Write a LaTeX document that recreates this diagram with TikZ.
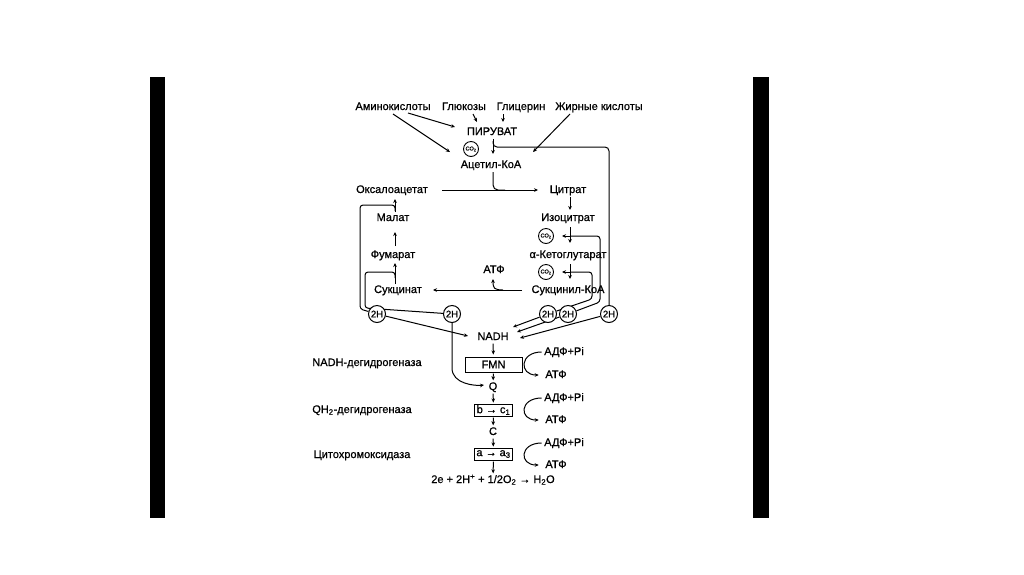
\documentclass[tikz,border=0pt]{standalone}
\usepackage{fontspec}
\setmainfont{Liberation Sans}[FakeBold=0.7]
\usetikzlibrary{arrows.meta,calc}
\pgfdeclarelayer{back}
\pgfdeclarelayer{lines}
\pgfsetlayers{back,lines,main}
\begin{document}
\begin{tikzpicture}[x=1pt,y=-1pt,
  lbl/.style={inner sep=0.5pt,text height=8pt,text depth=2pt,font=\fontsize{11}{12}\selectfont},
  arr/.style={line width=1pt,-{Stealth[length=4pt,width=3.6pt]}},
  ln/.style={line width=1pt},
  hc/.style={circle,draw,fill=white,line width=1pt,minimum size=17pt,inner sep=0pt,font=\fontsize{9.5}{10}\selectfont},
  coc/.style={circle,draw,fill=white,line width=0.9pt,minimum size=15pt,inner sep=0pt,font=\fontsize{5.5}{6}\selectfont},
  ebox/.style={draw,line width=1pt,inner sep=0pt,font=\fontsize{11}{12}\selectfont}]

\begin{pgfonlayer}{back}
\fill[white] (0,0) rectangle (1024,574);
\fill[black] (150,77) rectangle (165,518);
\fill[black] (753,77) rectangle (769,518);
\end{pgfonlayer}
\useasboundingbox (0,0) rectangle (1024,574);

% top substrates
\node[lbl] (amino) at (393,107) {Аминокислоты};
\node[lbl] (gluc) at (464,107) {Глюкозы};
\node[lbl] (glyc) at (521,107) {Глицерин};
\node[lbl] (fat) at (599,107) {Жирные кислоты};
\node[lbl] (pyr) at (492,132) {ПИРУВАТ};
\node[coc] (co1) at (471,149) {CO\textsubscript{2}};
\node[lbl] (acoa) at (491,165) {Ацетил-КоА};

% cycle
\node[lbl] (oxa) at (392,190) {Оксалоацетат};
\node[lbl] (cit) at (568,190) {Цитрат};
\node[lbl] (mal) at (393,218) {Малат};
\node[lbl] (iso) at (568,218) {Изоцитрат};
\node[coc] (co2) at (546,236) {CO\textsubscript{2}};
\node[lbl] (fum) at (393,255) {Фумарат};
\node[lbl] (akg) at (568,255) {α-Кетоглутарат};
\node[lbl] (atp0) at (494,270) {АТФ};
\node[coc] (co3) at (546,272) {CO\textsubscript{2}};
\node[lbl] (suc) at (398,290) {Сукцинат};
\node[lbl] (scoa) at (568,290) {Сукцинил-КоА};

% 2H
\node[hc] (h1) at (377,314) {2H};
\node[hc] (h2) at (452,314) {2H};
\node[hc] (h3) at (548,314) {2H};
\node[hc] (h4) at (568,314) {2H};
\node[hc] (h5) at (609,314) {2H};

% respiratory chain
\node[lbl] (nadh) at (493,337) {NADH};
\node[lbl] (e1) at (367,363) {NADH-дегидрогеназа};
\node[ebox,minimum width=57pt,minimum height=15pt] (fmn) at (493.5,364.5) {FMN};
\node[lbl] (adp1) at (564,352) {АДФ+Pi};
\node[lbl] (atp1) at (556,375) {АТФ};
\node[lbl] (q) at (493,387) {Q};
\node[lbl] (e2) at (362,410) {QH\textsubscript{2}-дегидрогеназа};
\node[ebox,minimum width=38pt,minimum height=12pt] (bc) at (493.5,410) {b → c\textsubscript{1}};
\node[lbl] (adp2) at (564,398) {АДФ+Pi};
\node[lbl] (atp2) at (556,420) {АТФ};
\node[lbl] (cc) at (493,432) {C};
\node[lbl] (e3) at (362,455) {Цитохромоксидаза};
\node[ebox,minimum width=38pt,minimum height=12pt] (aa) at (493.5,454) {a → a\textsubscript{3}};
\node[lbl] (adp3) at (564,443) {АДФ+Pi};
\node[lbl] (atp3) at (556,465) {АТФ};
\node[lbl] (fin) at (493,480) {2e + 2H\textsuperscript{+} + 1/2O\textsubscript{2} → H\textsubscript{2}O};

\begin{pgfonlayer}{lines}
% substrates
\draw[arr] ($(amino)+(15,6)$) -- ($(pyr)+(-37,-5)$);
\draw[arr] ($(amino)+(0,7)$) -- ($(acoa)+(-41,-13)$);
\draw[arr] ($(gluc)+(9,7)$) -- ($(pyr)+(-15,-10)$);
\draw[arr] ($(glyc)+(-18,7)$) -- ($(pyr)+(11,-10)$);
\draw[arr] ($(fat)+(-29,7)$) -- ($(acoa)+(42,-13)$);
\draw[arr] ($(pyr)+(1,7)$) -- ($(acoa)+(2,-11)$);
\coordinate (pb) at ($(pyr)+(1,15)$);
\draw[ln,rounded corners=4pt] ($(pyr)+(1,9)$) -- (pb) -- (pb -| h5) -- (h5.north);

% into the cycle
\coordinate (aj) at ($(acoa)+(2,25)$);
\draw[ln,rounded corners=5pt] ($(acoa)+(2,7)$) -- (aj) -- ++(12,0);
\draw[arr] ($(oxa)+(50,0)$) -- ($(cit)+(-30,0)$);
\draw[arr] ($(cit)+(2,7)$) -- ($(iso)+(2,-8)$);

% isocitrate
\coordinate (ib) at ($(iso)+(2,18)$);
\draw[arr] ($(iso)+(2,9)$) -- ($(iso)+(2,25)$);
\draw[arr] (ib) -- ($(co2)+(16,0)$);
\coordinate (rB) at (600,302);
\draw[ln,rounded corners=3pt] (ib) -- (ib -| rB) -- (rB) -- (h4);

% alpha-ketoglutarate
\coordinate (kb) at ($(akg)+(2,17)$);
\draw[arr] ($(akg)+(2,9)$) -- ($(akg)+(2,24)$);
\draw[arr] (kb) -- ($(co3)+(16,0)$);
\coordinate (rA) at (592,299);
\draw[ln,rounded corners=3pt] (kb) -- (kb -| rA) -- (rA) -- (h3);

% to NADH
\draw[arr] (h3) -- ($(nadh)+(20,-10)$);
\draw[arr] (h4) -- ($(nadh)+(24,-5)$);
\draw[arr] (h5) -- ($(nadh)+(27,1)$);

% succinyl-CoA -> succinate
\draw[arr] ($(scoa)+(-46,0)$) -- ($(suc)+(35,0)$);
\draw[arr] ($(scoa)+(-65,0)$) .. controls ($(scoa)+(-74,0)$) and ($(atp0)+(-1,18)$) .. ($(atp0)+(-1,9)$);

% left side of cycle
\draw[arr] ($(suc)+(-3,-6)$) -- ($(fum)+(2,8)$);
\draw[arr] ($(fum)+(2,-9)$) -- ($(mal)+(2,14)$);
\draw[arr] ($(mal)+(2,-6)$) -- ($(oxa)+(3,9)$);

\coordinate (mb) at ($(mal)+(2,-13)$);
\coordinate (lA) at (360,309);
\draw[ln,rounded corners=3pt] ($(mal)+(2,-7)$) -- (mb) -- (mb -| lA) -- (lA) -- (h1);
\draw[arr] (h1) -- ($(nadh)+(-25,-1)$);

\coordinate (sb) at ($(suc)+(-3,-18)$);
\coordinate (lB) at (365,308);
\draw[ln,rounded corners=3pt] ($(suc)+(-3,-12)$) -- (sb) -- (sb -| lB) -- (lB) -- (h2);
\draw[arr] (h2) -- ($(h2)+(0,54)$) .. controls ($(h2)+(0,70)$) and ($(q)+(-18,-1)$) .. ($(q)+(-9,-2)$);

% chain
\draw[arr,shorten <=1pt,shorten >=2pt] (nadh) -- (fmn);
\draw[arr,shorten <=1pt,shorten >=1pt] (fmn) -- (q);
\draw[arr,shorten <=1pt,shorten >=1pt] (q) -- (bc);
\draw[arr,shorten <=1pt,shorten >=1pt] (bc) -- (cc);
\draw[arr,shorten <=1pt,shorten >=1pt] (cc) -- (aa);
\draw[arr,shorten <=1pt,shorten >=1pt] (aa) -- (fin);

% ADP/ATP
\draw[arr] ($(adp1.west)+(-2,0)$) .. controls ($(adp1.west)+(-24,0)$) and ($(atp1.west)+(-26,0)$) .. ($(atp1.west)+(-6,0)$);
\draw[arr] ($(adp2.west)+(-2,0)$) .. controls ($(adp2.west)+(-24,0)$) and ($(atp2.west)+(-26,0)$) .. ($(atp2.west)+(-6,0)$);
\draw[arr] ($(adp3.west)+(-2,0)$) .. controls ($(adp3.west)+(-24,0)$) and ($(atp3.west)+(-26,0)$) .. ($(atp3.west)+(-6,0)$);
\end{pgfonlayer}
\end{tikzpicture}
\end{document}
